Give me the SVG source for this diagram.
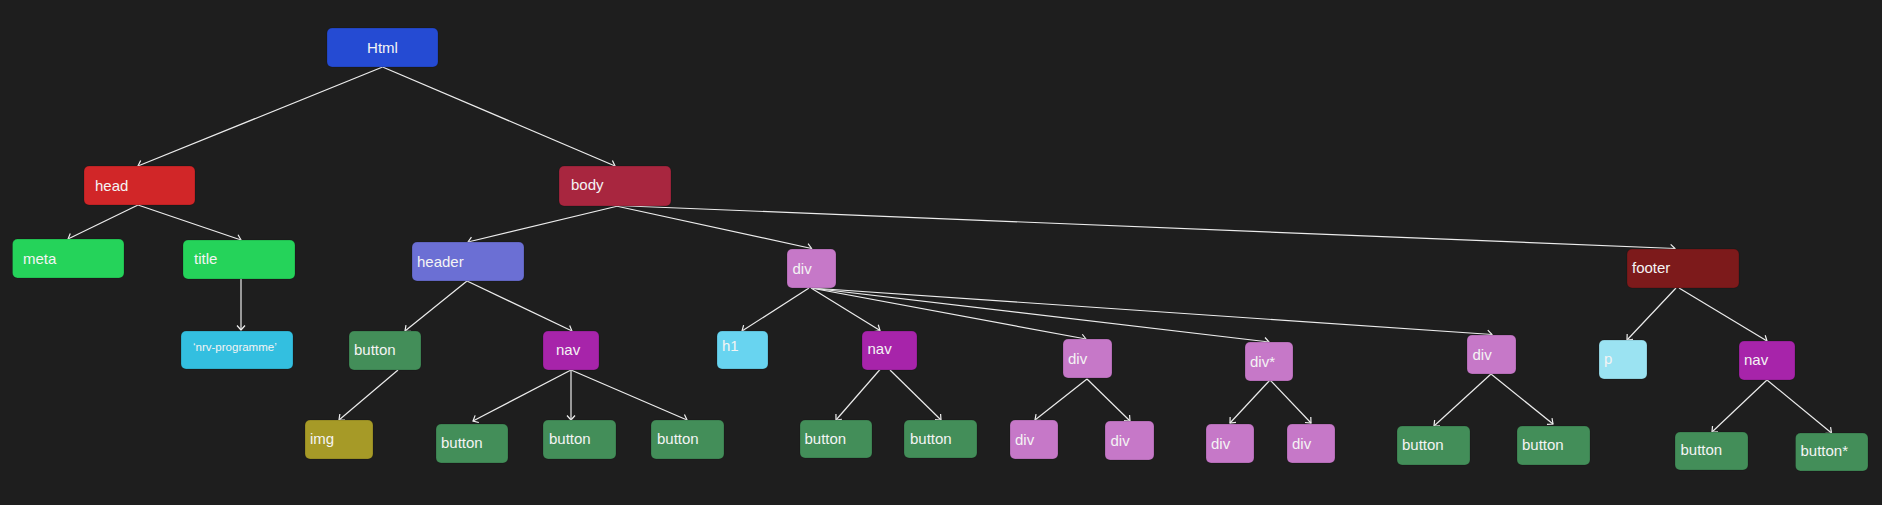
<svg xmlns="http://www.w3.org/2000/svg" width="1882" height="505" viewBox="0 0 1882 505">
<style>
.n rect{stroke:#000;stroke-opacity:0.18;stroke-width:1}
.n text{font-family:"Liberation Sans",Arial,sans-serif;font-size:15px;fill:#f4f4f4}
.c line{stroke:#ececec;stroke-width:1.2;fill:none}
.blue{fill:#254BD3}.red{fill:#D12628}.crim{fill:#A8263F}.green{fill:#25D35A}.hdr{fill:#6B6FD4}
.cyan{fill:#33BFE0}.btn{fill:#438E59}.nav{fill:#A724AA}.img{fill:#A69A27}.div{fill:#C678C8}
.h1{fill:#68D4F0}.foot{fill:#7D1A1B}.p{fill:#9BE3F2}
</style>
<defs>
<marker id="arr" markerUnits="userSpaceOnUse" markerWidth="10" markerHeight="10" viewBox="-6 -5 7 10" refX="0" refY="0" orient="auto">
<path d="M-4.5,-4 L0,0 L-4.5,4" fill="none" stroke="#f0f0f0" stroke-width="1.2"/>
</marker>
</defs>
<rect width="1882" height="505" fill="#1e1e1e"/>
<g id="connectors" class="c">
<line x1="382.6" y1="67" x2="138" y2="166" marker-end="url(#arr)"/>
<line x1="382.6" y1="67" x2="615" y2="166" marker-end="url(#arr)"/>
<line x1="138" y1="205" x2="68" y2="239" marker-end="url(#arr)"/>
<line x1="138" y1="205" x2="241" y2="240" marker-end="url(#arr)"/>
<line x1="241" y1="279" x2="241" y2="330" marker-end="url(#arr)"/>
<line x1="618" y1="206" x2="468" y2="242" marker-end="url(#arr)"/>
<line x1="616" y1="206" x2="811.6" y2="248.5" marker-end="url(#arr)"/>
<line x1="616" y1="205.5" x2="1675" y2="248.5" marker-end="url(#arr)"/>
<line x1="467" y1="281" x2="405" y2="331" marker-end="url(#arr)"/>
<line x1="467" y1="281" x2="572" y2="331" marker-end="url(#arr)"/>
<line x1="398" y1="370" x2="339" y2="420" marker-end="url(#arr)"/>
<line x1="571" y1="370" x2="473" y2="421" marker-end="url(#arr)"/>
<line x1="571" y1="370" x2="571" y2="420" marker-end="url(#arr)"/>
<line x1="571" y1="370" x2="687" y2="420" marker-end="url(#arr)"/>
<line x1="809" y1="288" x2="742" y2="331" marker-end="url(#arr)"/>
<line x1="811" y1="288" x2="880" y2="330.5" marker-end="url(#arr)"/>
<line x1="811" y1="288" x2="1086" y2="339" marker-end="url(#arr)"/>
<line x1="811" y1="288" x2="1269" y2="342" marker-end="url(#arr)"/>
<line x1="811" y1="288" x2="1492" y2="334.5" marker-end="url(#arr)"/>
<line x1="880" y1="369.5" x2="836" y2="420" marker-end="url(#arr)"/>
<line x1="890" y1="370" x2="941" y2="420" marker-end="url(#arr)"/>
<line x1="1087" y1="379" x2="1035" y2="420" marker-end="url(#arr)"/>
<line x1="1087" y1="379" x2="1130" y2="421" marker-end="url(#arr)"/>
<line x1="1270" y1="380" x2="1230" y2="423" marker-end="url(#arr)"/>
<line x1="1270" y1="380" x2="1311" y2="423" marker-end="url(#arr)"/>
<line x1="1676" y1="288" x2="1627" y2="340" marker-end="url(#arr)"/>
<line x1="1679" y1="288" x2="1767" y2="341" marker-end="url(#arr)"/>
<line x1="1491" y1="374" x2="1434" y2="426" marker-end="url(#arr)"/>
<line x1="1491" y1="374" x2="1553" y2="424" marker-end="url(#arr)"/>
<line x1="1767" y1="380" x2="1712" y2="432" marker-end="url(#arr)"/>
<line x1="1767" y1="380" x2="1831.5" y2="433" marker-end="url(#arr)"/>
</g>
<g id="html" class="n"><rect class="blue" x="327" y="28" width="111" height="39" rx="5"/><text x="382.5" y="52.5" text-anchor="middle">Html</text></g>
<g id="head" class="n"><rect class="red" x="84" y="166" width="111" height="39" rx="5"/><text x="95" y="190.5">head</text></g>
<g id="body" class="n"><rect class="crim" x="559" y="166" width="112" height="40" rx="5"/><text x="571" y="190">body</text></g>
<g id="meta" class="n"><rect class="green" x="12.5" y="239" width="111.5" height="39" rx="5"/><text x="23" y="263.5">meta</text></g>
<g id="title" class="n"><rect class="green" x="183" y="240" width="112" height="39" rx="5"/><text x="194" y="263.5">title</text></g>
<g id="header" class="n"><rect class="hdr" x="412" y="242" width="112" height="39" rx="5"/><text x="417" y="266.5">header</text></g>
<g id="title-text" class="n"><rect class="cyan" x="181" y="331" width="112" height="38" rx="5"/><text x="193" y="351" style="font-size:11.5px">‘nrv-programme’</text></g>
<g id="header-button" class="n"><rect class="btn" x="349" y="331" width="72" height="39" rx="5"/><text x="354" y="354.5">button</text></g>
<g id="header-nav" class="n"><rect class="nav" x="543" y="331" width="56" height="39" rx="5"/><text x="556" y="354.5">nav</text></g>
<g id="img" class="n"><rect class="img" x="305" y="420" width="68" height="39" rx="5"/><text x="310" y="443.5">img</text></g>
<g id="header-nav-button1" class="n"><rect class="btn" x="436" y="424" width="72" height="39" rx="5"/><text x="441" y="447.5">button</text></g>
<g id="header-nav-button2" class="n"><rect class="btn" x="543" y="420" width="73" height="39" rx="5"/><text x="549" y="444">button</text></g>
<g id="header-nav-button3" class="n"><rect class="btn" x="651" y="420" width="73" height="39" rx="5"/><text x="657" y="444">button</text></g>
<g id="div-main" class="n"><rect class="div" x="787" y="249" width="49" height="39" rx="5"/><text x="792.5" y="273.5">div</text></g>
<g id="footer" class="n"><rect class="foot" x="1627" y="249" width="112" height="39" rx="5"/><text x="1632" y="272.5">footer</text></g>
<g id="h1" class="n"><rect class="h1" x="717" y="331" width="51" height="38" rx="5"/><text x="722" y="350.7">h1</text></g>
<g id="div-nav" class="n"><rect class="nav" x="862" y="331" width="55" height="39" rx="5"/><text x="867.5" y="354">nav</text></g>
<g id="div-div" class="n"><rect class="div" x="1063" y="339" width="49" height="39" rx="5"/><text x="1068" y="363.5">div</text></g>
<g id="div-divstar" class="n"><rect class="div" x="1245" y="342" width="48" height="39" rx="5"/><text x="1250" y="366.5">div*</text></g>
<g id="div-last" class="n"><rect class="div" x="1467" y="335" width="49" height="39" rx="5"/><text x="1472.5" y="360">div</text></g>
<g id="p" class="n"><rect class="p" x="1599" y="340" width="48" height="39" rx="5"/><text x="1604" y="364">p</text></g>
<g id="footer-nav" class="n"><rect class="nav" x="1739" y="341" width="56" height="39" rx="5"/><text x="1744" y="364.5">nav</text></g>
<g id="div-nav-button1" class="n"><rect class="btn" x="800" y="420" width="72" height="38" rx="5"/><text x="804.5" y="443.5">button</text></g>
<g id="div-nav-button2" class="n"><rect class="btn" x="904" y="420" width="73" height="38" rx="5"/><text x="910" y="443.5">button</text></g>
<g id="div-div-a" class="n"><rect class="div" x="1010" y="420" width="48" height="39" rx="5"/><text x="1015" y="445">div</text></g>
<g id="div-div-b" class="n"><rect class="div" x="1105" y="421" width="49" height="39" rx="5"/><text x="1110.5" y="446">div</text></g>
<g id="divstar-div-a" class="n"><rect class="div" x="1206" y="424" width="48" height="39" rx="5"/><text x="1211" y="449">div</text></g>
<g id="divstar-div-b" class="n"><rect class="div" x="1287" y="424" width="48" height="39" rx="5"/><text x="1292" y="449">div</text></g>
<g id="div-last-button1" class="n"><rect class="btn" x="1397" y="426" width="73" height="39" rx="5"/><text x="1402" y="450">button</text></g>
<g id="div-last-button2" class="n"><rect class="btn" x="1517" y="426" width="73" height="39" rx="5"/><text x="1522" y="450">button</text></g>
<g id="footer-nav-button1" class="n"><rect class="btn" x="1675" y="432" width="73" height="38" rx="5"/><text x="1680.5" y="455">button</text></g>
<g id="footer-nav-button2" class="n"><rect class="btn" x="1795.5" y="433" width="72.5" height="38" rx="5"/><text x="1800.5" y="456">button*</text></g>
</svg>
